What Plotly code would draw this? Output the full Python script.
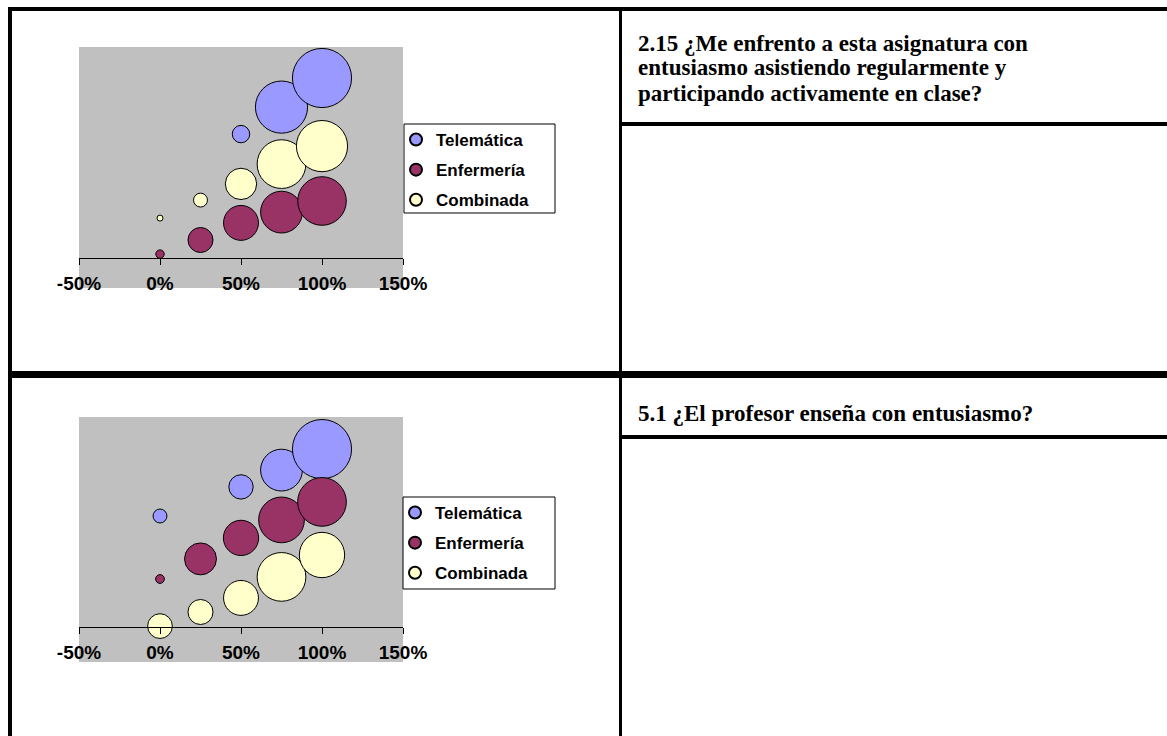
import plotly.graph_objects as go

# figure size (page body margin is removed after plotting)
OFF = 0
W, H = 1167, 736

# ---------------- data ----------------
series_names = ["Telemática", "Enfermería", "Combinada"]
series_colors = ["#9999FF", "#993366", "#FFFFCC"]

x_ticks = [-0.5, 0, 0.5, 1.0, 1.5]
x_tick_labels = ["-50%", "0%", "50%", "100%", "150%"]

# Question 2.15
q1_title_lines = ["2.15 ¿Me enfrento a esta asignatura con",
                  "entusiasmo asistiendo regularmente y",
                  "participando activamente en clase?"]
q1_tel_x = [0.5, 0.75, 1.0]
q1_tel_y = [4.13, 5.03, 6.0]
q1_tel_s = [4.7, 42.2, 54.3]
q1_enf_x = [0, 0.25, 0.5, 0.75, 1.0]
q1_enf_y = [0.13, 0.6, 1.17, 1.53, 1.9]
q1_enf_s = [1.1, 9.7, 18.9, 27.1, 36.6]
q1_com_x = [0, 0.25, 0.5, 0.75, 1.0]
q1_com_y = [1.33, 1.93, 2.47, 3.13, 3.73]
q1_com_s = [0.25, 3.0, 15.2, 36.8, 40.6]

# Question 5.1
q2_title_lines = ["5.1 ¿El profesor enseña con entusiasmo?"]
q2_tel_x = [0, 0.5, 0.75, 1.0]
q2_tel_y = [3.7, 4.67, 5.23, 5.93]
q2_tel_s = [3.0, 9.2, 27.1, 54.3]
q2_enf_x = [0, 0.25, 0.5, 0.75, 1.0]
q2_enf_y = [1.6, 2.27, 2.97, 3.57, 4.17]
q2_enf_s = [1.2, 15.8, 19.3, 32.4, 36.8]
q2_com_x = [0, 0.25, 0.5, 0.75, 1.0]
q2_com_y = [0.03, 0.5, 0.97, 1.67, 2.4]
q2_com_s = [9.5, 9.7, 18.9, 36.8, 31.8]

# ---------------- helpers ----------------
def px(x):
    return (x - OFF) / W

def py(y):
    return 1 - (y - OFF) / H

SIZEREF = 0.031

fig = go.Figure()

charts = [
    (1, "legend", [(q1_tel_x, q1_tel_y, q1_tel_s), (q1_enf_x, q1_enf_y, q1_enf_s), (q1_com_x, q1_com_y, q1_com_s)]),
    (2, "legend2", [(q2_tel_x, q2_tel_y, q2_tel_s), (q2_enf_x, q2_enf_y, q2_enf_s), (q2_com_x, q2_com_y, q2_com_s)]),
]

for idx, leg, data in charts:
    xa = "x" if idx == 1 else "x2"
    ya = "y" if idx == 1 else "y2"
    for name, color, (xs, ys, ss) in zip(series_names, series_colors, data):
        fig.add_trace(go.Scatter(
            x=xs, y=ys, mode="markers", name=name,
            xaxis=xa, yaxis=ya, legend=leg, legendgroup=f"{leg}-{name}",
            marker=dict(size=ss, sizemode="area", sizeref=SIZEREF, sizemin=3,
                        color=color, opacity=1,
                        line=dict(color="black", width=1)),
            hoverinfo="skip",
        ))

# plot areas (screen pixels)
c1 = dict(x0=79, x1=403, top=47, bottom=288, axis=258)
c2 = dict(x0=79, x1=403, top=417, bottom=662, axis=627)
unit = 30.0

def axis_setup(c):
    xdom = [px(c["x0"]), px(c["x1"])]
    ydom = [py(c["bottom"]), py(c["top"])]
    yr = [-(c["bottom"] - c["axis"]) / unit, (c["axis"] - c["top"]) / unit]
    xa = dict(domain=xdom, range=[-0.5, 1.5], tickvals=x_ticks, ticktext=x_tick_labels,
              showgrid=False, zeroline=False, showline=True, linecolor="black", linewidth=1,
              ticks="outside", ticklen=6, tickcolor="black", tickwidth=1,
              anchor="free", position=py(c["axis"]), ticklabelstandoff=2,
              tickfont=dict(family="Liberation Sans, Arial", size=19, color="black", weight="bold"),
              automargin=False, fixedrange=True)
    ya = dict(domain=ydom, range=yr, visible=False, showgrid=False, zeroline=False,
              automargin=False, fixedrange=True)
    return xa, ya

xa1, ya1 = axis_setup(c1)
xa2, ya2 = axis_setup(c2)
ya1["anchor"] = "x"
ya2["anchor"] = "x2"

shapes = []
# gray plot backgrounds
for c in (c1, c2):
    shapes.append(dict(type="rect", xref="paper", yref="paper", layer="below",
                       x0=px(c["x0"]), x1=px(c["x1"]), y0=py(c["bottom"]), y1=py(c["top"]),
                       fillcolor="#C0C0C0", line=dict(width=0)))

# legend boxes
for (lx0, lx1, ly0, ly1) in [(404, 555, 124, 213), (403, 555, 497, 589)]:
    shapes.append(dict(type="rect", xref="paper", yref="paper", layer="above",
                       x0=px(lx0), x1=px(lx1), y0=py(ly1), y1=py(ly0),
                       fillcolor="white", line=dict(color="black", width=1)))

# table borders
borders = [
    (8, 1167, 7, 11),      # top
    (8, 12, 7, 736),       # left
    (619, 622, 7, 736),    # middle
    (8, 1167, 371, 378),   # row divider
    (622, 1167, 122, 126), # right cell divider 1
    (622, 1167, 435, 439), # right cell divider 2
]
for (bx0, bx1, by0, by1) in borders:
    shapes.append(dict(type="rect", xref="paper", yref="paper", layer="above",
                       x0=px(bx0), x1=px(bx1), y0=py(by1), y1=py(by0),
                       fillcolor="black", line=dict(width=0)))

annotations = []
for lines, y_first in ((q1_title_lines, 43), (q2_title_lines, 413)):
    for i, line in enumerate(lines):
        annotations.append(dict(
            text=f"<b>{line}</b>", x=px(636), y=py(y_first + 25 * i), xref="paper", yref="paper",
            xanchor="left", yanchor="middle", align="left", showarrow=False,
            font=dict(family="Liberation Serif, Times New Roman", size=23, color="black")))

legend_common = dict(bgcolor="rgba(0,0,0,0)", borderwidth=0, itemsizing="constant",
                     tracegroupgap=5, xanchor="left", yanchor="top", itemwidth=30,
                     font=dict(family="Liberation Sans, Arial", size=17, color="black", weight="bold"))

fig.update_layout(
    width=W, height=H, autosize=False,
    margin=dict(l=0, r=0, t=0, b=0, pad=0, autoexpand=False),
    paper_bgcolor="white", plot_bgcolor="rgba(0,0,0,0)",
    xaxis=xa1, yaxis=ya1, xaxis2=xa2, yaxis2=ya2,
    shapes=shapes, annotations=annotations,
    legend=dict(x=px(396), y=py(122), **legend_common),
    legend2=dict(x=px(395), y=py(495), **legend_common),
    showlegend=True,
)

fig.write_html("out.html",
               config={"displayModeBar": False},
               post_script="document.body.style.margin='0';document.body.style.overflow='hidden';")
